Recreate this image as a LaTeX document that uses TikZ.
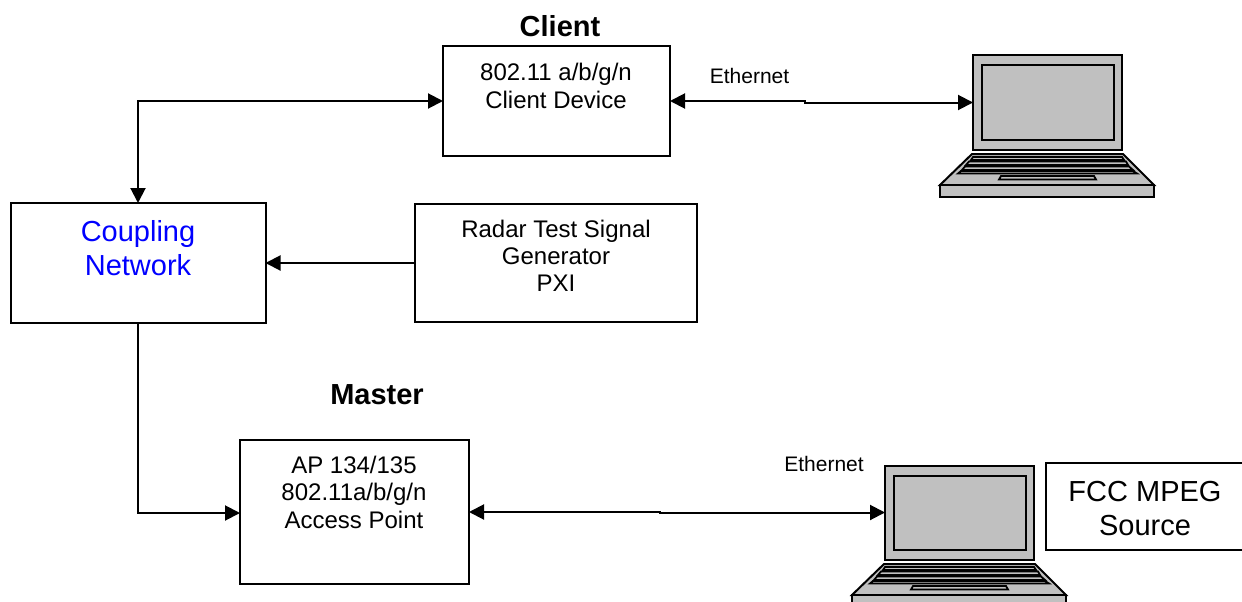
\documentclass[tikz,border=0pt]{standalone}
\usepackage{fontspec}
\setmainfont{Liberation Sans}
\usetikzlibrary{arrows.meta}
\definecolor{lapgray}{RGB}{192,192,192}
\tikzset{
  boxn/.style={draw=black,line width=2pt,fill=white,inner sep=0pt,outer sep=0pt,anchor=north west},
  txt/.style={inner sep=0pt,align=center,anchor=base,text=black},
  wire/.style={line width=2pt,draw=black},
  tipa/.style={-{Triangle[length=15pt,width=15pt]}},
  tipb/.style={{Triangle[length=15pt,width=15pt]}-{Triangle[length=15pt,width=15pt]}},
  lap/.style={draw=black,line width=2pt,fill=lapgray,line join=miter},
  lapk/.style={draw=black,line width=1.8pt,fill=lapgray}
}
\newcommand{\fsz}[1]{\fontsize{#1}{#1}\selectfont}
% #1 name, #2 dx, #3 dy
\newcommand{\laptop}[3]{%
  \begin{scope}[shift={(#2,#3)}]
    \node[boxn,lap,minimum width=149pt,minimum height=94pt] (#1) at (973,55.500) {};
    \node[boxn,lap,minimum width=132pt,minimum height=74pt] (#1in) at (982,65.500) {};
    \draw[lap] (972,154) -- (1123,154) -- (1154,185) -- (940,185) -- cycle;
    \draw[lap] (940,185) rectangle (1154,197);
    \draw[lapk] (973,157) -- (1122,157) -- (1124,160) -- (971,160) -- cycle;
    \draw[lapk] (969,161.500) -- (1126,161.500) -- (1128,165) -- (966,165) -- cycle;
    \draw[lapk] (965,166.500) -- (1129,166.500) -- (1133,170) -- (962,170) -- cycle;
    \draw[lapk] (961,171) -- (1133,171) -- (1137,173.500) -- (958,173.500) -- cycle;
    \draw[lapk] (1001,176) -- (1094,176) -- (1096,179.500) -- (999,179.500) -- cycle;
  \end{scope}}
\begin{document}
\begin{tikzpicture}[x=1pt,y=-1pt]
\useasboundingbox (0,0) rectangle (1242,602);
\clip (0,0) rectangle (1242,602);
\fill[white] (0,0) rectangle (1242,602);

\node[boxn,minimum width=227pt,minimum height=109pt] (client) at (443,46.500) {};
\node[boxn,minimum width=255pt,minimum height=120pt] (coupling) at (10.500,203) {};
\node[boxn,minimum width=282pt,minimum height=118pt] (radar) at (415,204) {};
\node[boxn,minimum width=229pt,minimum height=144pt] (ap) at (240,440) {};
\node[boxn,minimum width=210pt,minimum height=87pt] (fcc) at (1046,463) {};

\laptop{lapa}{0}{0}
\laptop{lapb}{-88}{410}

\node[txt,font=\fsz{29}\bfseries] (tclient) at (560,36.500) {Client};
\node[txt,font=\fsz{29}\bfseries] (tmaster) at (377,404) {Master};
\node[txt,font=\fsz{24}] (t1a) at (556,81) {802.11 a/b/g/n};
\node[txt,font=\fsz{24}] (t1b) at (556,108) {Client Device};
\node[txt,font=\fsz{29},text={rgb,255:red,0;green,0;blue,255}] (t2a) at (138,241) {Coupling};
\node[txt,font=\fsz{29},text={rgb,255:red,0;green,0;blue,255}] (t2b) at (138,275) {Network};
\node[txt,font=\fsz{24}] (t3a) at (556,237) {Radar Test Signal};
\node[txt,font=\fsz{24}] (t3b) at (556,264) {Generator};
\node[txt,font=\fsz{24}] (t3c) at (556,291) {PXI};
\node[txt,font=\fsz{24}] (t4a) at (354,473) {AP 134/135};
\node[txt,font=\fsz{24}] (t4b) at (354,500) {802.11a/b/g/n};
\node[txt,font=\fsz{24}] (t4c) at (354,528) {Access Point};
\node[txt,font=\fsz{29}] (t5a) at (1145,501.500) {FCC MPEG};
\node[txt,font=\fsz{29}] (t5b) at (1145,535) {Source};
\node[txt,font=\fsz{21}] (e1) at (749.500,84) {Ethernet};
\node[txt,font=\fsz{21}] (e2) at (824,471) {Ethernet};

\coordinate (cornera) at (coupling.north |- client.west);
\coordinate (jog1) at (805,101);
\coordinate (jog2) at (660,512);

\draw[wire,tipb] (coupling.north) -- (cornera) -- (client.west);
\draw[wire,tipb] (client.east) -- (jog1) -- (jog1 |- lapa.west) -- (lapa.west);
\draw[wire,tipa] (radar.west |- coupling.east) -- (coupling.east);
\draw[wire,tipa] (coupling.south) |- (ap.west |- 138,513);
\draw[wire,tipb] (ap.east) -- (jog2) -- (jog2 |- lapb.west) -- (lapb.west);
\end{tikzpicture}
\end{document}
